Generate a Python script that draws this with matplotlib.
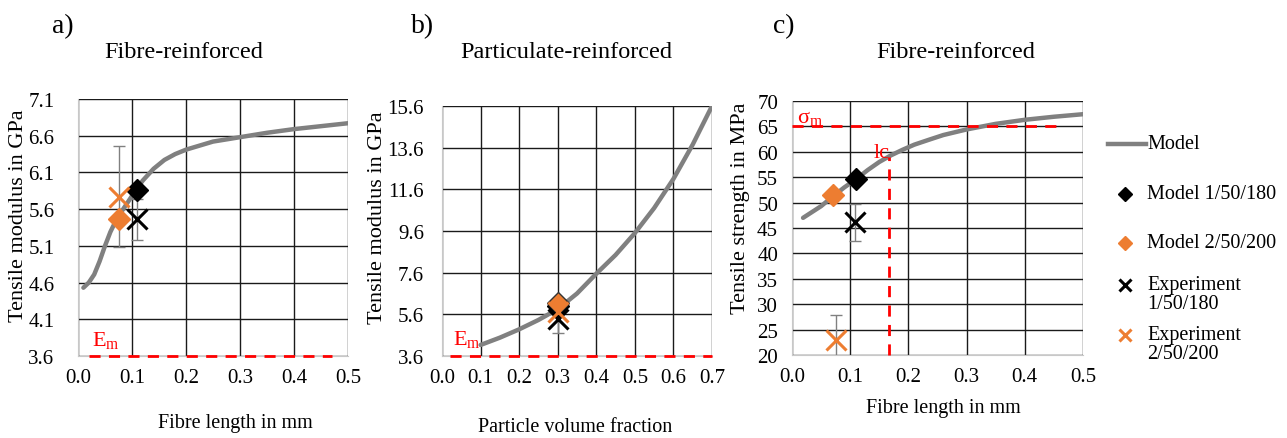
import numpy as np
import matplotlib
matplotlib.use("Agg")
import matplotlib.pyplot as plt

plt.rcParams['font.family'] = ['Liberation Serif', 'DejaVu Serif']
plt.rcParams['mathtext.fontset'] = 'custom'
plt.rcParams['mathtext.rm'] = 'Liberation Serif'

ORANGE = "#ED7D31"
GREY = "#808080"

## a) fibre-reinforced, modulus
a_x = [0.010, 0.02, 0.03, 0.04, 0.05, 0.06, 0.07, 0.08, 0.09, 0.10, 0.11, 0.12, 0.13, 0.14,
       0.15, 0.16, 0.18, 0.20, 0.25, 0.30, 0.35, 0.40, 0.45, 0.50]
a_y = [4.53, 4.60, 4.71, 4.89, 5.10, 5.29, 5.44, 5.56, 5.67, 5.78, 5.89, 5.99, 6.07, 6.15,
       6.21, 6.27, 6.35, 6.41, 6.52, 6.58, 6.64, 6.69, 6.73, 6.77]
a_m1 = (0.110, 5.86)
a_m2 = (0.076, 5.47)
a_e1 = (0.110, 5.46, 0.28)
a_e2 = (0.076, 5.77, 0.69)

## b) particulate-reinforced, modulus
b_x = [0.1, 0.15, 0.2, 0.25, 0.3, 0.35, 0.4, 0.45, 0.5, 0.55, 0.6, 0.65, 0.7]
b_y = [4.13, 4.48, 4.88, 5.33, 5.85, 6.6, 7.55, 8.45, 9.5, 10.7, 12.1, 13.75, 15.6]
b_m1 = (0.3, 6.0)
b_m2 = (0.3, 6.14)
b_e1 = (0.3, 5.37, 0.65)
b_e2 = (0.3, 5.70, 0.0)

## c) fibre-reinforced, strength
c_x = [0.019, 0.05, 0.07, 0.09, 0.11, 0.13, 0.15, 0.17, 0.19, 0.21, 0.236, 0.26, 0.30,
       0.35, 0.40, 0.45, 0.50]
c_y = [47.0, 49.3, 51.2, 53.0, 54.6, 56.4, 58.0, 59.3, 60.4, 61.4, 62.4, 63.3, 64.4,
       65.5, 66.3, 66.9, 67.4]
c_m1 = (0.110, 54.7)
c_m2 = (0.070, 51.4)
c_e1 = (0.108, 46.1, 3.7)
c_e2 = (0.076, 23.0, 4.9)
sigma_m = 65
lc = 0.166
lc_top = 59

legend_labels = ["Model", "Model 1/50/180", "Model 2/50/200", "Experiment\n1/50/180", "Experiment\n2/50/200"]

W, H = 1287, 439
fig = plt.figure(figsize=(W/100, H/100), dpi=100)

def add_ax(l, t, r, b):
    return fig.add_axes([l/W, 1-b/H, (r-l)/W, (b-t)/H])

def style(ax, xt, yt, yfmt, ypad):
    ax.set_xticks(xt)
    ax.set_yticks(yt)
    ax.set_xticklabels(["{:.1f}".format(v) for v in xt], fontsize=15)
    ax.set_yticklabels([yfmt.format(v) for v in yt], fontsize=15)
    ax.set_xlim(xt[0], xt[-1])
    ax.set_ylim(yt[0], yt[-1])
    ax.grid(True, color="#1a1a1a", linewidth=1.0)
    ax.tick_params(length=0)
    ax.tick_params(axis='x', pad=9)
    ax.tick_params(axis='y', pad=ypad)
    for s in ['left', 'bottom']:
        ax.spines[s].set_color("#c8c8c8")
    for s in ['top', 'right']:
        ax.spines[s].set_visible(False)
    ax.set_axisbelow(True)

def points(ax, m1, m2, e1, e2, outline=False):
    for e in (e1, e2):
        if e[2] > 0:
            ax.errorbar(e[0], e[1], yerr=e[2], fmt='none', ecolor=GREY, elinewidth=1, capsize=4, zorder=3)
    ax.plot(*m1, 'D', color='black', ms=11, zorder=4)
    ax.plot(*m2, 'D', color=ORANGE, mec='#333333' if outline else ORANGE, ms=11, zorder=5)
    ax.plot(e1[0], e1[1], 'x', color='black', ms=14, mew=2.2, zorder=6)
    ax.plot(e2[0], e2[1], 'x', color=ORANGE, ms=14, mew=2.2, zorder=6)

# panel a
ax1 = add_ax(78, 100, 348, 357)
style(ax1, [0, 0.1, 0.2, 0.3, 0.4, 0.5], [3.6, 4.1, 4.6, 5.1, 5.6, 6.1, 6.6, 7.1], "{:.1f}", 17)
ax1.plot(a_x, a_y, color=GREY, lw=3.2, zorder=3, solid_capstyle='round')
ax1.plot([0.02, 0.47], [3.6, 3.6], color='red', lw=2, dashes=(4, 3), clip_on=False, zorder=4)
ax1.text(0.026, 3.74, r"E$_\mathregular{m}$", color='red', fontsize=16)
points(ax1, a_m1, a_m2, a_e1, a_e2)

# panel b
ax2 = add_ax(442, 107, 712, 357)
style(ax2, [0, 0.1, 0.2, 0.3, 0.4, 0.5, 0.6, 0.7], [3.6, 5.6, 7.6, 9.6, 11.6, 13.6, 15.6], "{:.1f}", 13)
ax2.plot(b_x, b_y, color=GREY, lw=3.2, zorder=3, solid_capstyle='round')
ax2.plot([0.02, 0.7], [3.6, 3.6], color='red', lw=2, dashes=(4, 3), clip_on=False, zorder=4)
ax2.text(0.029, 4.18, r"E$_\mathregular{m}$", color='red', fontsize=16)
points(ax2, b_m1, b_m2, b_e1, b_e2, outline=True)

# panel c
ax3 = add_ax(792, 102, 1083, 356)
style(ax3, [0, 0.1, 0.2, 0.3, 0.4, 0.5], list(range(20, 71, 5)), "{:d}", 10)
ax3.plot(c_x, c_y, color=GREY, lw=3.2, zorder=3, solid_capstyle='round')
ax3.plot([0, 0.46], [sigma_m, sigma_m], color='red', lw=2, dashes=(4, 3), zorder=4)
ax3.plot([lc, lc], [20, lc_top], color='red', lw=2, dashes=(4, 3), zorder=4, clip_on=False)
ax3.text(0.009, 65.9, r"$\mathregular{\sigma_m}$", color='red', fontsize=16)
ax3.text(0.140, 59.0, "lc", color='red', fontsize=16)
points(ax3, c_m1, c_m2, c_e1, c_e2)

# titles and labels in pixel positions
def ftext(x, y, s, **kw):
    fig.text(x/W, 1-y/H, s, **kw)

ftext(52, 27, "a)", fontsize=20, va='center')
ftext(411, 27, "b)", fontsize=20, va='center')
ftext(773, 27, "c)", fontsize=20, va='center')
ftext(184, 52, "Fibre-reinforced", fontsize=17.5, ha='center', va='center')
ftext(566, 52, "Particulate-reinforced", fontsize=17.5, ha='center', va='center')
ftext(956, 52, "Fibre-reinforced", fontsize=17.5, ha='center', va='center')
ftext(235, 424, "Fibre length in mm", fontsize=14.5, ha='center', va='center')
ftext(575, 428, "Particle volume fraction", fontsize=14.5, ha='center', va='center')
ftext(943, 409, "Fibre length in mm", fontsize=14.5, ha='center', va='center')
ftext(19, 216, "Tensile modulus in GPa", fontsize=16, ha='center', va='center', rotation=90)
ftext(378, 218, "Tensile modulus in GPa", fontsize=16, ha='center', va='center', rotation=90)
ftext(741, 208, "Tensile strength in MPa", fontsize=16, ha='center', va='center', rotation=90)

# legend drawn in pixel space
lg = fig.add_axes([0, 0, 1, 1])
lg.set_xlim(0, W)
lg.set_ylim(H, 0)
lg.axis('off')
lg.plot([1108, 1146], [145, 145], color=GREY, lw=3.2)
lg.plot(1125, 195, 'D', color='black', ms=7)
lg.plot(1125, 244, 'D', color=ORANGE, ms=7)
lg.plot(1125, 286, 'x', color='black', ms=9, mew=2.2)
lg.plot(1125, 336, 'x', color=ORANGE, ms=9, mew=2.2)
lg.text(1147, 145, legend_labels[0], fontsize=14.5, va='center')
lg.text(1147, 195, legend_labels[1], fontsize=14.5, va='center')
lg.text(1147, 244, legend_labels[2], fontsize=14.5, va='center')
lg.text(1147, 295, legend_labels[3], fontsize=14.5, va='center', linespacing=1.0)
lg.text(1147, 345, legend_labels[4], fontsize=14.5, va='center', linespacing=1.0)

fig.savefig("out.png", dpi=100)
